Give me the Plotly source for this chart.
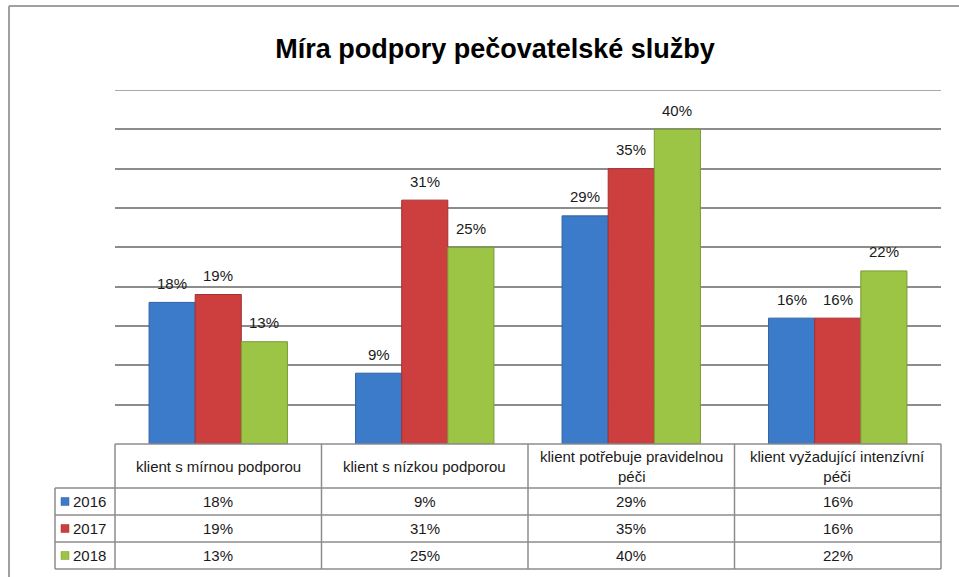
import plotly.graph_objects as go

# ---------------- data ----------------
title_text = "Míra podpory pečovatelské služby"
header_labels = [
    "klient s mírnou podporou",
    "klient s nízkou podporou",
    "klient potřebuje pravidelnou<br>péči",
    "klient vyžadující intenzívní<br>péči",
]
years = ["2016", "2017", "2018"]
v2016 = [18, 9, 29, 16]
v2017 = [19, 31, 35, 16]
v2018 = [13, 25, 40, 22]
series = [v2016, v2017, v2018]
colors = ["#3c7bc9", "#cd3e3e", "#9cc445"]
edge_colors = ["#2f629f", "#a33030", "#7a9a35"]

# ---------------- layout constants ----------------
W, H = 959, 577
L, R, T, B = 115, 18, 90, 133
PW, PH = W - L - R, H - T - B
FONT = "Liberation Sans, Arial, sans-serif"
GRID = "#8c8c8c"
BARGAP = 0.33
TXT = 15
YMAX = 45


def px(x):
    return (x - L) / PW


def py(y):
    return (H - B - y) / PH


fig = go.Figure()
ncat = len(header_labels)
for j, (yr, vals) in enumerate(zip(years, series)):
    fig.add_trace(go.Bar(
        x=list(range(ncat)), y=vals, name=yr,
        marker=dict(color=colors[j], line=dict(color=edge_colors[j], width=1)),
        showlegend=False, hoverinfo="skip",
    ))

annotations = []
shapes = []
bw = (1 - BARGAP) / len(years)
for j, vals in enumerate(series):
    for i, v in enumerate(vals):
        annotations.append(dict(
            x=i + (j - 1) * bw, y=v, xref="x", yref="y", text=f"{v}%",
            showarrow=False, yanchor="middle", yshift=19,
            font=dict(family=FONT, size=TXT, color="#1a1a1a"),
        ))

# top gridline at the axis maximum (plotly skips grid lines on the plot edge)
shapes.append(dict(type="line", xref="paper", yref="y", x0=0, x1=1,
                   y0=YMAX, y1=YMAX, line=dict(color=GRID, width=1.5), layer="below"))

# ---------------- data table ----------------
base = H - B            # y pixel of the axis baseline (table top)
hdr_bottom = base + 44
row_h = 27
label_left = 55
col_w = PW / ncat
line = dict(color=GRID, width=1.5)


def hline(y, x0, x1):
    shapes.append(dict(type="line", xref="paper", yref="paper",
                       x0=px(x0), x1=px(x1), y0=py(y), y1=py(y), line=line))


def vline(x, y0, y1):
    shapes.append(dict(type="line", xref="paper", yref="paper",
                       x0=px(x), x1=px(x), y0=py(y0), y1=py(y1), line=line))


table_bottom = hdr_bottom + row_h * len(years)
hline(base, L, L + PW)
for k in range(len(years) + 1):
    hline(hdr_bottom + k * row_h, label_left, L + PW)
for c in range(ncat + 1):
    vline(L + c * col_w, base, table_bottom)
vline(label_left, hdr_bottom, table_bottom)

for c, lab in enumerate(header_labels):
    annotations.append(dict(
        x=px(L + (c + 0.5) * col_w), y=py((base + hdr_bottom) / 2),
        xref="paper", yref="paper", text=lab, showarrow=False,
        xanchor="center", yanchor="middle", align="center",
        font=dict(family=FONT, size=TXT, color="#1a1a1a"),
    ))

for j, (yr, vals) in enumerate(zip(years, series)):
    yc = hdr_bottom + (j + 0.5) * row_h
    shapes.append(dict(type="rect", xref="paper", yref="paper",
                       x0=px(label_left + 6), x1=px(label_left + 14),
                       y0=py(yc - 4), y1=py(yc + 4),
                       fillcolor=colors[j], line=dict(color=edge_colors[j], width=0.5)))
    annotations.append(dict(
        x=px(label_left + 16), y=py(yc), xref="paper", yref="paper",
        text=yr, showarrow=False, xanchor="left", yanchor="middle",
        font=dict(family=FONT, size=TXT, color="#1a1a1a"),
    ))
    for c, v in enumerate(vals):
        annotations.append(dict(
            x=px(L + (c + 0.5) * col_w), y=py(yc), xref="paper", yref="paper",
            text=f"{v}%", showarrow=False, xanchor="center", yanchor="middle",
            font=dict(family=FONT, size=TXT, color="#1a1a1a"),
        ))

# outer chart frame (left and top edges visible)
frame = dict(color="#a0a0a0", width=2)
shapes.append(dict(type="line", xref="paper", yref="paper",
                   x0=px(9), x1=px(9), y0=py(H + 5), y1=py(6), line=frame))
shapes.append(dict(type="line", xref="paper", yref="paper",
                   x0=px(9), x1=px(W + 5), y0=py(6), y1=py(6), line=frame))

fig.update_layout(
    width=W, height=H,
    margin=dict(l=L, r=R, t=T, b=B),
    paper_bgcolor="white", plot_bgcolor="white",
    barmode="group", bargap=BARGAP, bargroupgap=0,
    title=dict(text=f"<b>{title_text}</b>", x=495 / W, xanchor="center",
               y=1 - 49 / H, yanchor="middle", xref="container", yref="container",
               font=dict(family=FONT, size=27, color="black")),
    xaxis=dict(range=[-0.5, ncat - 0.5], showticklabels=False, showgrid=False,
               zeroline=False, showline=False, fixedrange=True),
    yaxis=dict(range=[0, YMAX], tick0=0, dtick=5, showgrid=True, gridcolor=GRID,
               gridwidth=1.5, showticklabels=False, zeroline=False, showline=False,
               fixedrange=True),
    annotations=annotations,
    shapes=shapes,
)

fig.write_html(
    "out.html",
    config={"displayModeBar": False},
    post_script="document.body.style.margin='0px';document.body.style.overflow='hidden';",
)
